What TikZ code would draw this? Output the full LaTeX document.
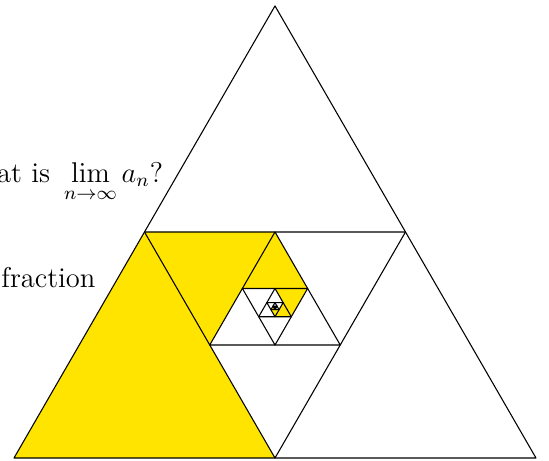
\documentclass[tikz,border=0pt]{standalone}
\usepackage{amsmath}
\usepackage{amssymb}
\usetikzlibrary{calc}

\definecolor{shadeyellow}{RGB}{255,228,0}
\tikzset{
  shaded/.style={fill=shadeyellow},
  edge/.style={black, line width=0.45pt, line join=round}
}

\begin{document}
\begin{tikzpicture}[x=0.42pt, y=0.42pt]
            \useasboundingbox (0,0) rectangle (549,460);

            \coordinate (a0) at (14,2);
            \coordinate (b0) at (275,454.06);
            \coordinate (c0) at (536,2);

            % shaded corner, then the next (middle) triangle
            \foreach \k [count=\j from 1] in {0,...,9} {
                \fill[shaded] (a\k) -- ($(a\k)!0.5!(b\k)$) -- ($(a\k)!0.5!(c\k)$) -- cycle;
                \coordinate (a\j) at ($(a\k)!0.5!(b\k)$);
                \coordinate (b\j) at ($(b\k)!0.5!(c\k)$);
                \coordinate (c\j) at ($(c\k)!0.5!(a\k)$);
            }
            \foreach \k in {0,...,10} {
                \draw[edge] (a\k) -- (b\k) -- (c\k) -- cycle;
            }

            \node[anchor=base east, inner sep=0pt] (question) at (163.5,277.5)
                {\large What is\, $\displaystyle\lim_{n\to\infty} a_n$?};
            \node[anchor=base west, inner sep=0pt] (fraction) at (1,172.5)
                {\large fraction};
        \end{tikzpicture}
\end{document}
